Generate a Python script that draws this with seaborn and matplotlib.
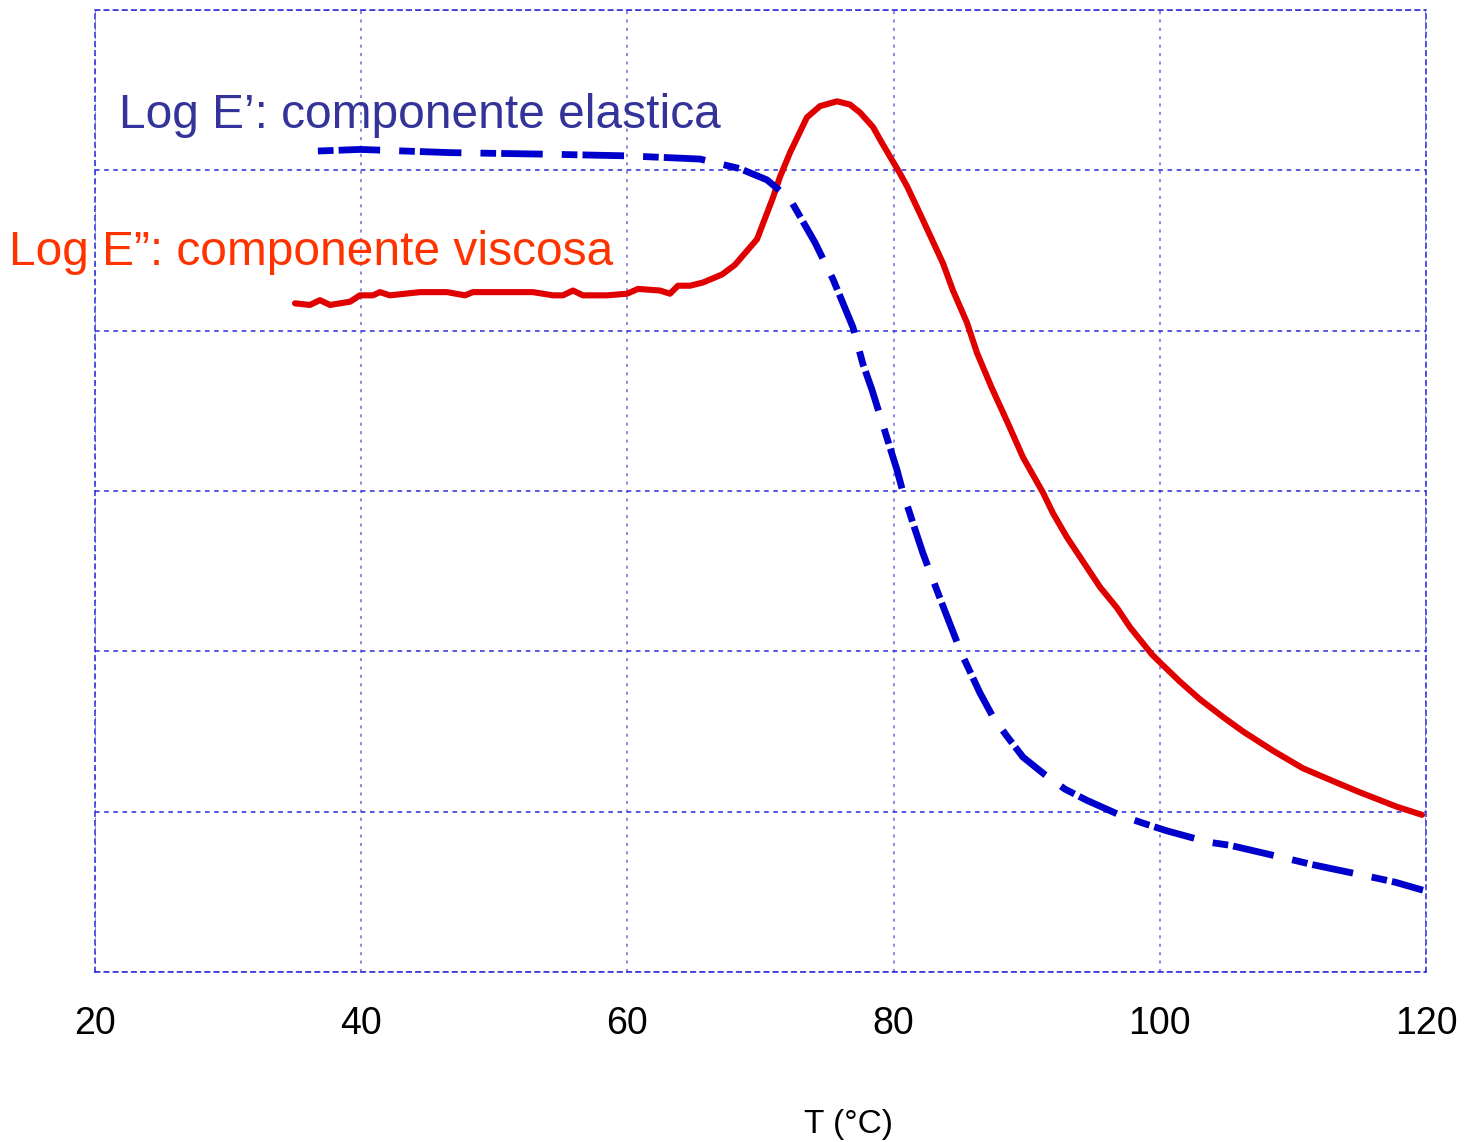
import matplotlib
matplotlib.use("Agg")
import matplotlib.pyplot as plt
import seaborn as sns
import pandas as pd

# Temperature sweep (°C) and storage modulus, log scale in grid units
t_elastic = [36.75, 39.91, 46.67, 54.18, 59.97, 65.45, 68.46, 70.49, 72.22, 73.12,
             74.09, 75.45, 76.20, 76.95, 77.70, 78.38, 78.83, 79.73, 80.26, 80.71,
             81.61, 82.21, 82.89, 83.86, 84.61, 85.14, 86.49, 87.47, 88.52, 89.72,
             91.37, 92.88, 94.53, 97.23, 99.04, 100.54, 103.62, 105.27, 109.93,
             111.43, 116.02, 117.67, 119.77]
log_e_elastic = [5.12, 5.13, 5.11, 5.10, 5.09, 5.07, 5.01, 4.94, 4.82, 4.69,
                 4.55, 4.32, 4.17, 4.02, 3.79, 3.63, 3.51, 3.27, 3.13, 2.99,
                 2.76, 2.61, 2.46, 2.25, 2.09, 1.98, 1.74, 1.59, 1.47, 1.34,
                 1.23, 1.14, 1.07, 0.97, 0.92, 0.88, 0.81, 0.79, 0.70,
                 0.67, 0.59, 0.56, 0.51]

# Loss modulus, same units
t_viscous = [35.03, 36.15, 36.90, 37.66, 39.16, 39.91, 40.89, 41.41, 42.16, 44.42,
             46.45, 47.80, 48.40, 51.41, 52.91, 54.41, 55.16, 55.91, 56.66, 58.47,
             59.97, 60.80, 62.45, 63.20, 63.80, 64.70, 65.68, 67.11, 68.08, 69.74,
             70.94, 71.47, 72.22, 73.49, 74.47, 75.75, 76.72, 77.48, 78.45, 79.13,
             80.48, 81.01, 81.98, 83.71, 84.46, 85.51, 86.27, 87.39, 88.60, 89.72,
             91.22, 91.98, 93.03, 94.23, 95.51, 96.79, 97.76, 99.41, 100.02, 101.52,
             103.02, 104.75, 106.25, 108.50, 110.76, 113.31, 115.04, 117.82, 119.70]
log_e_viscous = [4.17, 4.16, 4.19, 4.16, 4.18, 4.22, 4.22, 4.24, 4.22, 4.24,
                 4.24, 4.22, 4.24, 4.24, 4.24, 4.22, 4.22, 4.25, 4.22, 4.22,
                 4.23, 4.26, 4.25, 4.23, 4.28, 4.28, 4.30, 4.35, 4.41, 4.57,
                 4.83, 4.96, 5.11, 5.33, 5.40, 5.43, 5.41, 5.36, 5.27, 5.17,
                 4.98, 4.90, 4.73, 4.42, 4.25, 4.05, 3.86, 3.64, 3.42, 3.21,
                 2.99, 2.86, 2.71, 2.56, 2.40, 2.27, 2.15, 1.98, 1.93, 1.81,
                 1.70, 1.59, 1.50, 1.38, 1.27, 1.18, 1.12, 1.03, 0.98]

x_ticks = [20, 40, 60, 80, 100, 120]
x_tick_labels = ["20", "40", "60", "80", "100", "120"]
y_grid = [0, 1, 2, 3, 4, 5, 6]

label_elastic = "Log E’: componente elastica"
label_viscous = "Log E”: componente viscosa"
x_label = "T (°C)"

sns.set_style("white")
plt.rcParams["font.family"] = ["Liberation Sans", "DejaVu Sans"]

fig = plt.figure(figsize=(14.65, 11.42), dpi=100)
ax = fig.add_axes([0.0648, 0.1489, 0.9086, 0.8424])

df_el = pd.DataFrame({"T": t_elastic, "E": log_e_elastic})
df_vi = pd.DataFrame({"T": t_viscous, "E": log_e_viscous})

sns.lineplot(data=df_vi, x="T", y="E", ax=ax, color="#e00000", lw=4.4,
             estimator=None, sort=False)
sns.lineplot(data=df_el, x="T", y="E", ax=ax, color="#0000cc", lw=4.9,
             estimator=None, sort=False,
             linestyle=(0, (2.3, 0.75, 6.1, 2.8)))

ax.set_xlim(20, 120)
ax.set_ylim(0, 6)
ax.set_xticks(x_ticks)
ax.set_xticklabels(x_tick_labels)
ax.set_yticks(y_grid)
ax.set_yticklabels([])
ax.tick_params(axis="both", length=0)
ax.tick_params(axis="x", pad=24.5)
for lab in ax.get_xticklabels():
    lab.set_fontsize(27)
    lab.set_color("black")

ax.set_ylabel("")
ax.set_xlabel(x_label, fontsize=24, color="black")
ax.xaxis.set_label_coords(0.566, -0.1674)
ax.xaxis.label.set_verticalalignment("baseline")

# dotted grid: horizontal darker, vertical lighter
ax.yaxis.grid(True, color="#2a2ad8", linestyle=(0, (3, 3)), lw=1.1)
ax.xaxis.grid(True, color="#6a6ae0", linestyle=(0, (2, 3.5)), lw=1.1)
ax.set_axisbelow(True)
for side in ["left", "right", "top", "bottom"]:
    ax.spines[side].set_visible(True)
    ax.spines[side].set_color("#2a2ad8")
    ax.spines[side].set_linestyle((0, (3, 3)))
    ax.spines[side].set_linewidth(1.1)

ax.text(0.0178, 0.877, label_elastic, transform=ax.transAxes,
        fontsize=34.5, color="#333399", ha="left", va="baseline")
ax.text(-0.0643, 0.7349, label_viscous, transform=ax.transAxes,
        fontsize=34.5, color="#ff3300", ha="left", va="baseline")

fig.savefig("out.png", dpi=100)
